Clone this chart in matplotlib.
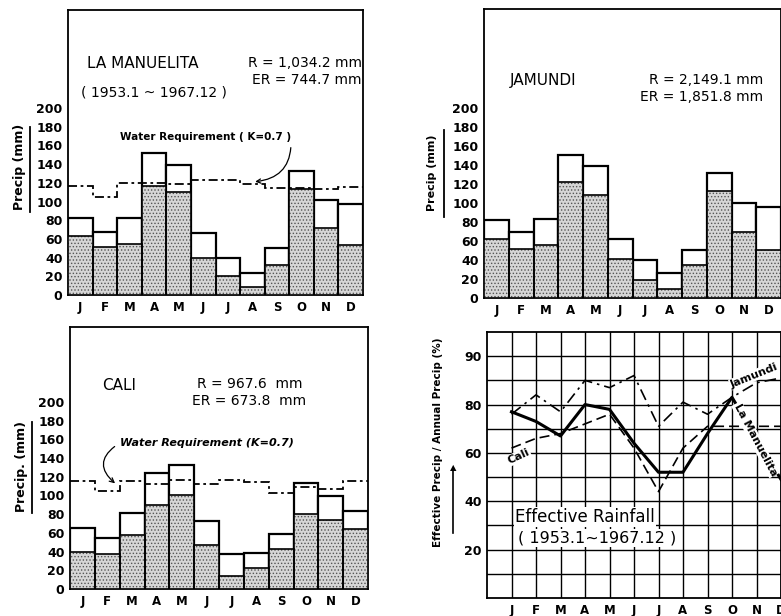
import numpy as np
from matplotlib import pyplot as plt
from matplotlib.lines import Line2D

# month labels
months = ['J', 'F', 'M', 'A', 'M', 'J', 'J', 'A', 'S', 'O', 'N', 'D']

# La Manuelita: monthly rain, effective rain, water requirement (mm)
manuelita_r = [82, 67, 82, 152, 139, 66, 40, 24, 50, 133, 102, 97]
manuelita_er = [63, 51, 55, 117, 110, 40, 20, 9, 32, 113, 72, 53]
manuelita_wr = [117, 105, 120, 120, 119, 123, 123, 119, 115, 114, 113, 116]

# Jamundi
jamundi_r = [82, 70, 83, 151, 139, 62, 40, 26, 51, 132, 100, 96]
jamundi_er = [62, 52, 56, 122, 109, 41, 19, 10, 35, 113, 70, 51]

# Cali
cali_r = [65, 55, 81, 124, 133, 73, 37, 39, 59, 113, 99, 83]
cali_er = [40, 37, 58, 90, 100, 47, 14, 22, 43, 80, 74, 64]
cali_wr = [115, 105, 115, 112, 117, 112, 116, 114, 103, 109, 107, 115]

# effective precip / annual precip (%)
ratio_manuelita = [77, 73, 67, 80, 78, 64, 52, 52, 68, 83, 66, 49]
ratio_jamundi = [76, 84, 77, 90, 87, 92, 71, 81, 76, 83, 89, 91]
ratio_cali = [62, 66, 68, 72, 76, 62, 44, 62, 71, 71, 71, 71]

plt.rcParams['font.family'] = ['DejaVu Sans']
plt.rcParams['hatch.linewidth'] = 0.6

fig = plt.figure(figsize=(7.81, 6.16), dpi=100)
W, H = 781.0, 616.0


def box(x0, y_top, x1, y_bot):
    # pixel box -> figure fraction
    return [x0 / W, 1 - y_bot / H, (x1 - x0) / W, (y_bot - y_top) / H]


def bar_panel(rect, r, er, top):
    ax = fig.add_axes(rect)
    x = np.arange(12)
    ax.bar(x, r, width=1, facecolor='white', edgecolor='black', linewidth=1.6, zorder=2)
    ax.bar(x, er, width=1, facecolor='#d6d6d6', edgecolor='#555555', hatch='.....',
           linewidth=0, zorder=3)
    ax.bar(x, er, width=1, fill=False, edgecolor='black', linewidth=1.2, zorder=4)
    ax.set_xlim(-0.5, 11.5)
    ax.set_ylim(0, top)
    ax.set_yticks(range(0, 201, 20))
    ax.set_yticklabels([str(v) for v in range(0, 201, 20)], fontweight='bold', fontsize=9)
    ax.set_xticks(x)
    ax.set_xticklabels(months, fontweight='bold', fontsize=8.5)
    ax.tick_params(length=0, pad=4)
    for s in ax.spines.values():
        s.set_linewidth(1.3)
    return ax


def ylab(text, xt, yt, x_line, y0, y1, size=9):
    fig.text(xt / W, 1 - yt / H, text, rotation=90, ha='center', va='center',
             fontsize=size, fontweight='bold')
    fig.add_artist(Line2D([x_line / W, x_line / W], [1 - y0 / H, 1 - y1 / H],
                          color='black', lw=1.3))


wr_style = dict(color='black', linewidth=1.3, linestyle=(0, (5, 2, 1.5, 2)), zorder=5)

# La Manuelita
ax1 = bar_panel(box(68, 10, 363, 295), manuelita_r, manuelita_er, 305)
ax1.stairs(manuelita_wr, np.arange(13) - 0.5, baseline=None, **wr_style)
ax1.text(0.064, 0.814, 'LA MANUELITA', transform=ax1.transAxes, fontsize=11, va='center')
ax1.text(0.995, 0.814, 'R = 1,034.2 mm', transform=ax1.transAxes, fontsize=10,
         va='center', ha='right')
ax1.text(0.995, 0.754, 'ER = 744.7 mm', transform=ax1.transAxes, fontsize=10,
         va='center', ha='right')
ax1.text(0.045, 0.709, '( 1953.1 ~ 1967.12 )', transform=ax1.transAxes, fontsize=10,
         va='center')
ax1.annotate('Water Requirement ( K=0.7 )', xy=(7.0, 121), xytext=(1.6, 169),
             fontsize=7.5, fontweight='bold', va='center',
             arrowprops=dict(arrowstyle='->', connectionstyle='arc3,rad=-0.5',
                             relpos=(1, 0.5), lw=0.9, color='black'))
ylab('Precip (mm)', 20, 167, 30, 127, 212)

# Jamundi
ax2 = bar_panel(box(484, 9, 781, 298), jamundi_r, jamundi_er, 305)
ax2.text(0.0875, 0.754, 'JAMUNDI', transform=ax2.transAxes, fontsize=11, va='center')
ax2.text(0.94, 0.754, 'R = 2,149.1 mm', transform=ax2.transAxes, fontsize=10,
         va='center', ha='right')
ax2.text(0.94, 0.696, 'ER = 1,851.8 mm', transform=ax2.transAxes, fontsize=10,
         va='center', ha='right')
ylab('Precip (mm)', 432, 173, 444, 130, 217, size=8)

# Cali
ax3 = bar_panel(box(70, 327, 368, 589), cali_r, cali_er, 280)
ax3.stairs(cali_wr, np.arange(13) - 0.5, baseline=None, **wr_style)
ax3.text(0.107, 0.775, 'CALI', transform=ax3.transAxes, fontsize=11, va='center')
ax3.text(0.426, 0.782, 'R = 967.6  mm', transform=ax3.transAxes, fontsize=10,
         va='center')
ax3.text(0.41, 0.716, 'ER = 673.8  mm', transform=ax3.transAxes, fontsize=10,
         va='center')
ax3.annotate('Water Requirement (K=0.7)', xy=(1.4, 111), xytext=(1.5, 156),
             fontsize=8, fontweight='bold', style='italic', va='center',
             arrowprops=dict(arrowstyle='->', connectionstyle='arc3,rad=0.7',
                             relpos=(0, 0.5), lw=0.9, color='black'))
ylab('Precip. (mm)', 22, 466, 32, 422, 513)

# Effective rainfall ratio
ax4 = fig.add_axes(box(487, 332, 781, 598))
mx = np.arange(1, 13)
ax4.plot(mx, ratio_manuelita, color='black', lw=2.2, zorder=4)
ax4.plot(mx, ratio_jamundi, color='black', lw=1.2, linestyle=(0, (7, 3, 1.5, 3)), zorder=4)
ax4.plot(mx, ratio_cali, color='black', lw=1.2, linestyle=(0, (6, 3)), zorder=4)
ax4.set_xlim(0, 11.85)
ax4.set_ylim(0, 110)
ax4.set_xticks(mx)
ax4.set_xticklabels(months, fontweight='bold', fontsize=8.5)
ax4.set_yticks(range(10, 101, 10))
ax4.set_yticklabels(['', '20', '', '40', '', '60', '', '80', '', '90'],
                    fontweight='bold', fontsize=9)
ax4.tick_params(length=0, pad=4)
ax4.grid(True, color='black', lw=1.0)
for s in ax4.spines.values():
    s.set_linewidth(1.3)
ax4.text(0.095, 0.305, 'Effective Rainfall', transform=ax4.transAxes, fontsize=12,
         va='center', zorder=6,
         bbox=dict(facecolor='white', edgecolor='none', pad=1))
ax4.text(0.105, 0.226, '( 1953.1~1967.12 )', transform=ax4.transAxes, fontsize=11.5,
         va='center', zorder=6,
         bbox=dict(facecolor='white', edgecolor='none', pad=1))
ax4.text(10.9, 92, 'Jamundi', rotation=22, fontsize=8, fontweight='bold',
         ha='center', va='center', zorder=6,
         bbox=dict(facecolor='white', edgecolor='none', pad=0.5))
ax4.text(10.95, 65.5, 'La Manuelita', rotation=-62, fontsize=8, fontweight='bold',
         ha='center', va='center', zorder=6,
         bbox=dict(facecolor='white', edgecolor='none', pad=0.5))
ax4.text(1.3, 58.5, 'Cali', rotation=25, fontsize=8, fontweight='bold',
         ha='center', va='center', zorder=6,
         bbox=dict(facecolor='white', edgecolor='none', pad=0.5))
fig.text(438 / W, 1 - 442 / H, 'Effective Precip / Annual Precip (%)', rotation=90,
         ha='center', va='center', fontsize=7.5, fontweight='bold')
fig.add_artist(Line2D([453 / W, 453 / W], [1 - 533 / H, 1 - 470 / H], color='black', lw=1.2))
fig.text(453 / W, 1 - 468 / H, '\u25b2', fontsize=6, ha='center', va='center')

plt.savefig('out.png', dpi=100)
